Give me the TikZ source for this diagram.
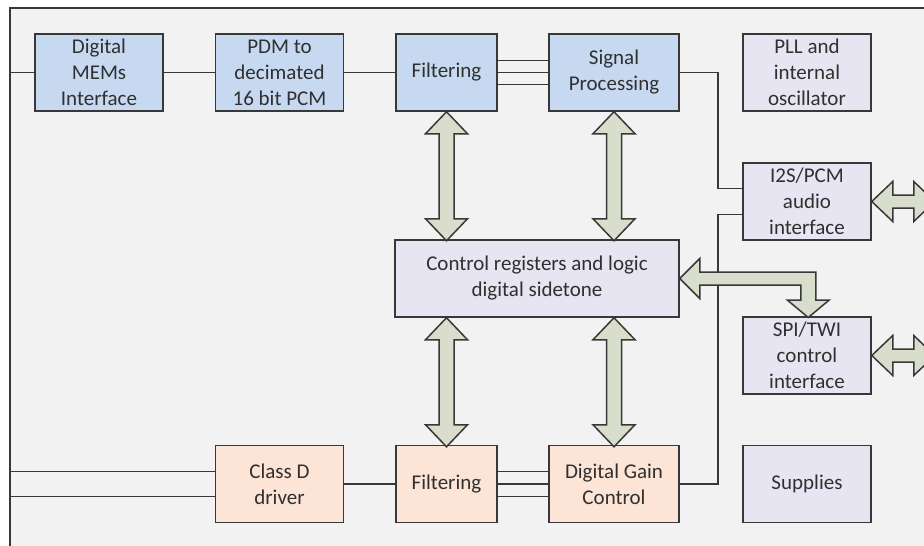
\documentclass[tikz,border=0pt]{standalone}
\usepackage{fontspec}
\setmainfont{Carlito}
\definecolor{inblue}{HTML}{C6D9F1}
\definecolor{lilac}{HTML}{E6E5F1}
\definecolor{peach}{HTML}{FCE4D6}
\definecolor{sage}{HTML}{D8DECB}
\definecolor{paper}{HTML}{F2F2F2}
\definecolor{boxline}{HTML}{383838}
\definecolor{txt}{HTML}{303030}

\begin{document}
\begin{tikzpicture}[x=1pt,y=-1pt,
		blk/.style={draw=boxline,line width=1.5pt,minimum width=128pt,minimum height=77pt,inner sep=0pt,align=center,text=txt,font=\fontsize{21}{26}\selectfont},
		inblk/.style={blk,fill=inblue},
		ctlblk/.style={blk,fill=lilac},
		outblk/.style={blk,fill=peach},
		fat/.style={draw=boxline,line width=1.5pt,fill=sage,line join=miter},
		wire/.style={draw=boxline,line width=1.5pt}]
		\useasboundingbox (0,0) rectangle (924,546);
		\clip (0,0) rectangle (924,546);
		\fill[paper] (10,8) rectangle (924,546);
		\draw[wire] (924,8) -- (10,8) -- (10,546);
		% input chain
		\node[inblk] (mems) at (99,72.5) {Digital\\MEMs\\Interface};
		\node[inblk] (pdm) at (279.5,72.5) {PDM to\\decimated\\16 bit PCM};
		\node[inblk,minimum width=101pt] (filt) at (446.5,72.5) {Filtering};
		\node[inblk,minimum width=130pt] (sig) at (614,72.5) {Signal\\Processing};
		\node[ctlblk] (pll) at (807,72.5) {PLL and\\internal\\oscillator};
		% control
		\node[ctlblk,minimum width=284pt] (ctrl) at (537,278.5) {Control registers and logic\\digital sidetone};
		\node[ctlblk] (i2s) at (807,201.5) {I2S/PCM\\audio\\interface};
		\node[ctlblk] (spi) at (807,355.5) {SPI/TWI\\control\\interface};
		% output chain
		\node[outblk] (classd) at (279.5,484) {Class D\\driver};
		\node[outblk,minimum width=101pt] (filt2) at (446.5,484) {Filtering};
		\node[outblk,minimum width=130pt] (dgc) at (614,484) {Digital Gain\\Control};
		\node[ctlblk] (sup) at (807,484) {Supplies};
		\coordinate (micin) at (10,72.5);
		\coordinate (spkout) at (10,484);
		% wires
		\draw[wire] (micin) -- (mems.west);
		\draw[wire] (mems.east) -- (pdm.west);
		\draw[wire] (pdm.east) -- (filt.west);
		\foreach \s in {-12,0,12}
			\draw[wire] ([yshift=\s pt]filt.east) -- ([yshift=\s pt]sig.west);
		\draw[wire] (sig.east) -- ++(38,0) |- ([yshift=13pt]i2s.west);
		\draw[wire] (dgc.east) -- ++(38,0) |- ([yshift=-13pt]i2s.west);
		\foreach \s in {-12.5,12.5}
			\draw[wire] ([yshift=\s pt]spkout) -- ([yshift=\s pt]classd.west);
		\draw[wire] (classd.east) -- (filt2.west);
		\foreach \s in {-12.5,0,12.5}
			\draw[wire] ([yshift=\s pt]filt2.east) -- ([yshift=\s pt]dgc.west);
		% fat double arrows to the control block
		\foreach \p in {filt.south,sig.south,filt2.north|-ctrl.south,dgc.north|-ctrl.south}
			\draw[fat] (\p) -- ++(21,22) -- ++(-13.5,0) -- ++(0,85) -- ++(13.5,0) -- ++(-21,22)
				-- ++(-21,-22) -- ++(13.5,0) -- ++(0,-85) -- ++(-13.5,0) -- cycle;
		\draw[fat] (ctrl.east) -- ++(20,-20) -- ++(0,13.5) -- ++(116,0) -- ++(0,28) -- ++(13.5,0)
			-- ++(-21,17.5) -- ++(-21,-17.5) -- ++(13.5,0) -- ++(0,-15) -- ++(-101,0) -- ++(0,13.5) -- cycle;
		\foreach \n in {i2s,spi}
			\draw[fat] (\n.east) -- ++(21,-20) -- ++(0,13.5) -- ++(21,0) -- ++(0,-13.5) -- ++(21,20)
				-- ++(-21,20) -- ++(0,-13.5) -- ++(-21,0) -- ++(0,13.5) -- cycle;
	\end{tikzpicture}
\end{document}
